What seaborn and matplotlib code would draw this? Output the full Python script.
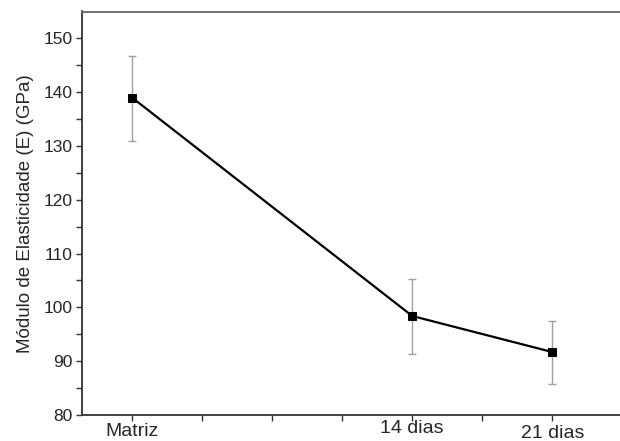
import numpy as np
import pandas as pd
import matplotlib
matplotlib.use("Agg")
import matplotlib.pyplot as plt
import seaborn as sns

# days of treatment (Matriz = 0)
dias = [0, 14, 21]
rotulos = ["Matriz", "14 dias", "21 dias"]
modulo = [139.0, 98.4, 91.7]
erro_sup = [146.7, 105.3, 97.4]
erro_inf = [131.0, 91.4, 85.8]

sns.set_style("ticks")
plt.rcParams["font.family"] = ["Liberation Sans", "DejaVu Sans"]

frame = pd.DataFrame({"dias": dias, "E": modulo})
yerr = [np.array(modulo) - np.array(erro_inf), np.array(erro_sup) - np.array(modulo)]

fig = plt.figure(figsize=(6.2, 4.41), dpi=100)
ax = fig.add_axes([82 / 620, 26 / 441, 1.02 - 82 / 620, (415 - 11.5) / 441])

ax.errorbar(dias, modulo, yerr=yerr, fmt="none", ecolor="#a0a0a0", elinewidth=1,
            capsize=3, capthick=1, zorder=2)
sns.lineplot(data=frame, x="dias", y="E", ax=ax, color="black", linewidth=1.6,
             marker="s", markersize=5.8, markeredgecolor="black", zorder=3)

ax.set_xlim(-2.5, 25)
ax.set_ylim(80, 155)

xt = np.arange(0, 24.6, 3.5)
ax.set_xticks(xt)
ax.set_xticklabels([rotulos[dias.index(v)] if v in dias else "" for v in xt], fontsize=14)
ax.set_yticks(np.arange(80, 151, 10))
ax.set_yticks(np.arange(85, 151, 10), minor=True)
ax.tick_params(axis="y", labelsize=12.5, length=4.5, width=1, color="#333333", pad=2)
ax.tick_params(axis="y", which="minor", length=4, width=1, color="#333333")
ax.tick_params(axis="x", length=4, width=1, color="#333333", pad=1.5)

# shift the x labels a bit like the original
ticks = ax.xaxis.get_major_ticks()
ticks[4].set_pad(-0.5)
ticks[6].set_pad(3)

ax.set_xlabel("")
ax.set_ylabel("Módulo de Elasticidade (E) (GPa)", fontsize=13.5, labelpad=7)

for s in ["left", "bottom", "top"]:
    ax.spines[s].set_color("#333333")
    ax.spines[s].set_linewidth(1.3)
ax.spines["top"].set_color("#666666")
ax.spines["right"].set_visible(False)

fig.savefig("out.png", dpi=100)
